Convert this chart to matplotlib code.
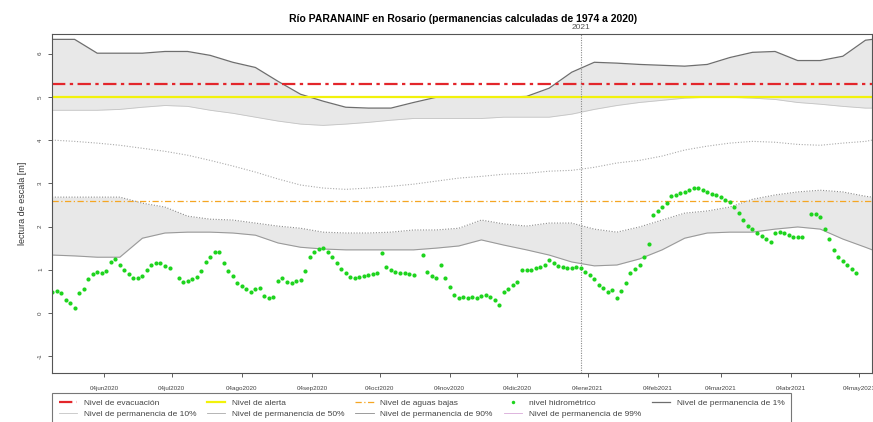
import matplotlib
matplotlib.use('Agg')
import matplotlib.pyplot as plt
from matplotlib.lines import Line2D
import numpy as np
import pandas as pd

plt.rcParams['font.family'] = ['Liberation Sans', 'DejaVu Sans']

# Datos

inicio = pd.Timestamp('2020-05-12')
fin = pd.Timestamp('2020-05-12') + pd.Timedelta(days=362.8)
corte_anio = pd.Timestamp('2021-01-01')

nivel_evacuacion = 5.3
nivel_alerta = 5.0
nivel_aguas_bajas = 2.6

dias_perm = [0, 10, 20, 30, 40, 50, 60, 70, 80, 90, 100, 110, 120, 130, 140, 150, 160, 170, 180,
             190, 200, 210, 220, 230, 240, 250, 260, 270, 280, 290, 300, 310, 320, 330, 340, 350, 360, 363]
perm_1 = [6.33, 6.33, 6.01, 6.01, 6.01, 6.05, 6.05, 5.96, 5.80, 5.68, 5.36, 5.06, 4.90, 4.76, 4.74, 4.74,
          4.87, 4.99, 4.99, 4.99, 4.99, 5.01, 5.20, 5.57, 5.80, 5.78, 5.75, 5.73, 5.71, 5.75, 5.91, 6.03,
          6.05, 5.84, 5.84, 5.94, 6.31, 6.33]
perm_10 = [4.69, 4.69, 4.69, 4.71, 4.76, 4.80, 4.78, 4.69, 4.62, 4.53, 4.44, 4.37, 4.34, 4.37, 4.41, 4.46,
           4.50, 4.50, 4.50, 4.50, 4.53, 4.53, 4.53, 4.60, 4.71, 4.80, 4.87, 4.92, 4.97, 4.99, 4.99, 4.97,
           4.94, 4.87, 4.83, 4.78, 4.74, 4.74]
perm_50 = [4.00, 3.97, 3.93, 3.88, 3.81, 3.74, 3.65, 3.53, 3.40, 3.26, 3.10, 2.96, 2.89, 2.86, 2.89, 2.93,
           2.98, 3.05, 3.12, 3.16, 3.21, 3.23, 3.28, 3.30, 3.37, 3.47, 3.53, 3.63, 3.77, 3.86, 3.93, 3.97,
           3.95, 3.90, 3.88, 3.93, 3.97, 4.00]
perm_90 = [2.68, 2.68, 2.68, 2.68, 2.54, 2.45, 2.24, 2.17, 2.15, 2.08, 2.01, 1.96, 1.87, 1.85, 1.85, 1.87,
           1.92, 1.92, 1.96, 2.15, 2.06, 2.01, 2.08, 2.08, 1.94, 1.87, 1.99, 2.15, 2.31, 2.36, 2.45, 2.63,
           2.73, 2.80, 2.84, 2.80, 2.70, 2.68]
perm_99 = [1.34, 1.32, 1.29, 1.29, 1.73, 1.85, 1.87, 1.87, 1.85, 1.80, 1.62, 1.52, 1.48, 1.46, 1.46, 1.46,
           1.46, 1.50, 1.55, 1.69, 1.57, 1.46, 1.34, 1.18, 1.09, 1.11, 1.25, 1.46, 1.73, 1.85, 1.87, 1.87,
           1.94, 1.99, 1.94, 1.71, 1.52, 1.46]

# nivel hidrometrico cada 2 dias desde el inicio (nan = sin dato)
nivel_hidro = [
    0.49, 0.50, 0.46, 0.30, 0.22, 0.12, 0.46, 0.55, 0.78, 0.90,
    0.95, 0.92, 0.98, 1.18, 1.25, 1.10, 1.00, 0.90, 0.81, 0.80,
    0.85, 1.00, 1.12, 1.15, 1.15, 1.08, 1.04, np.nan, 0.80, 0.72,
    0.74, 0.78, 0.83, 0.98, 1.18, 1.30, 1.42, 1.40, 1.15, 0.98,
    0.85, 0.70, 0.62, 0.55, 0.49, 0.55, 0.58, 0.40, 0.35, 0.37,
    0.75, 0.80, 0.72, 0.70, 0.74, 0.76, 0.98, 1.30, 1.42, 1.47,
    1.50, 1.40, 1.29, 1.15, 1.02, 0.92, 0.83, 0.80, 0.83, 0.85,
    0.88, 0.90, 0.92, 1.39, 1.06, 1.00, 0.95, 0.93, 0.92, 0.90,
    0.88, np.nan, 1.34, 0.95, 0.85, 0.81, 1.11, 0.80, 0.60, 0.42,
    0.35, 0.36, 0.35, 0.38, 0.35, 0.40, 0.42, 0.38, 0.30, 0.18,
    0.48, 0.55, 0.65, 0.72, 0.99, 0.99, 1.00, 1.04, 1.06, 1.12,
    1.22, 1.15, 1.08, 1.06, 1.04, 1.04, 1.06, 1.04, 0.95, 0.88,
    0.78, 0.65, 0.58, 0.49, 0.53, 0.35, 0.50, 0.70, 0.92, 1.02,
    1.12, 1.29, 1.60, 2.26, 2.35, 2.45, 2.55, 2.70, 2.74, 2.77,
    2.80, 2.84, 2.88, 2.89, 2.85, 2.80, 2.76, 2.72, 2.68, 2.62,
    2.56, 2.45, 2.31, 2.15, 2.02, 1.95, 1.84, 1.78, 1.70, 1.64,
    1.86, 1.87, 1.86, 1.80, 1.76, 1.75, 1.76, np.nan, 2.30, 2.30,
    2.22, 1.95, 1.70, 1.46, 1.30, 1.20, 1.11, 1.02, 0.92,
]

meses = ['ene', 'feb', 'mar', 'abr', 'may', 'jun', 'jul', 'ago', 'sep', 'oct', 'nov', 'dic']
fechas_ticks = pd.date_range('2020-06-01', '2021-05-01', freq='MS') + pd.Timedelta(days=3)

titulo = 'Río PARANAINF en Rosario (permanencias calculadas de 1974 a 2020)'

# Grafico

fechas_perm = inicio + pd.to_timedelta(dias_perm, unit='D')
fechas_hidro = pd.date_range(inicio, periods=len(nivel_hidro), freq='2D')

fig = plt.figure(figsize=(8.73, 4.22), dpi=100)
ax = fig.add_axes([0.0596, 0.116, 0.939, 0.803])

gris_banda = '#e8e8e8'
ax.fill_between(fechas_perm, perm_10, perm_1, color=gris_banda, lw=0)
ax.fill_between(fechas_perm, perm_99, perm_90, color=gris_banda, lw=0)

ax.plot(fechas_perm, perm_1, color='#6e6e6e', lw=0.9)
ax.plot(fechas_perm, perm_10, color='#c4c4c4', lw=0.6)
ax.plot(fechas_perm, perm_50, color='#aaaaaa', lw=0.8, ls=(0, (1, 1.5)))
ax.plot(fechas_perm, perm_90, color='#8c8c8c', lw=0.8, ls=(0, (1, 1.5)))
ax.plot(fechas_perm, perm_99, color='#9a9a9a', lw=0.8)

ax.axhline(nivel_alerta, color='#f2f20a', lw=1.6)
ax.axhline(nivel_evacuacion, color='#e3262b', lw=1.6, ls=(0, (6, 2, 1.5, 2)))
ax.axhline(nivel_aguas_bajas, color='#f5a623', lw=0.9, ls=(0, (5, 2, 1, 2)))

ax.axvline(corte_anio, color='#8a8a8a', lw=0.8, ls=(0, (1, 1.2)))
ax.text(corte_anio, 6.52, '2021', ha='center', va='bottom', fontsize=6, color='#555555')

ax.plot(fechas_hidro, nivel_hidro, ls='none', marker='o', ms=3, color='#1ed41e', mec='none')

ax.set_xlim(inicio, fin)
ax.set_ylim(-1.39, 6.45)

ax.set_xticks(fechas_ticks)
ax.set_xticklabels([f'{d.day:02d}{meses[d.month - 1]}{d.year}' for d in fechas_ticks])
ax.set_yticks([-1, 0, 1, 2, 3, 4, 5, 6])
ax.set_yticklabels(['-1', '0', '1', '2', '3', '4', '5', '6'], rotation=90, va='center')
ax.tick_params(axis='both', labelsize=4.5, colors='#444444', length=3, width=0.6, direction='out')
ax.tick_params(axis='x', pad=6)
for lado in ax.spines.values():
    lado.set_color('#555555')
    lado.set_linewidth(0.8)

ax.set_ylabel('lectura de escala [m]', fontsize=6.5, color='#333333', labelpad=8)
fig.text(0.53, 0.955, titulo, ha='center', va='center', fontsize=7.5, fontweight='bold')

# Leyenda

manejadores = [
    Line2D([], [], color='#e3262b', lw=1.6, ls=(0, (6, 2, 1.5, 2))),
    Line2D([], [], color='#c4c4c4', lw=0.6),
    Line2D([], [], color='#f2f20a', lw=1.6),
    Line2D([], [], color='#aaaaaa', lw=0.6),
    Line2D([], [], color='#f5a623', lw=0.9, ls=(0, (5, 2, 1, 2))),
    Line2D([], [], color='#8c8c8c', lw=0.6),
    Line2D([], [], ls='none', marker='o', ms=2.5, color='#1ed41e', mec='none'),
    Line2D([], [], color='#d8a8d8', lw=0.6),
    Line2D([], [], color='#6e6e6e', lw=0.9),
    Line2D([], [], lw=0),
]
etiquetas = [
    'Nivel de evacuación', 'Nivel de permanencia de 10%',
    'Nivel de alerta', 'Nivel de permanencia de 50%',
    'Nivel de aguas bajas', 'Nivel de permanencia de 90%',
    'nivel hidrométrico', 'Nivel de permanencia de 99%',
    'Nivel de permanencia de 1%', '',
]
leyenda = fig.legend(manejadores, etiquetas, loc='upper left', bbox_to_anchor=(0.0596, 0.069),
                     ncol=5, fontsize=6, frameon=True, fancybox=False, edgecolor='#555555',
                     handlelength=2.2, handletextpad=0.8, columnspacing=1.3, labelspacing=0.3,
                     borderpad=0.8, borderaxespad=0)
leyenda.get_frame().set_linewidth(0.8)
for t in leyenda.get_texts():
    t.set_color('#444444')

fig.savefig('out.png', dpi=100)
